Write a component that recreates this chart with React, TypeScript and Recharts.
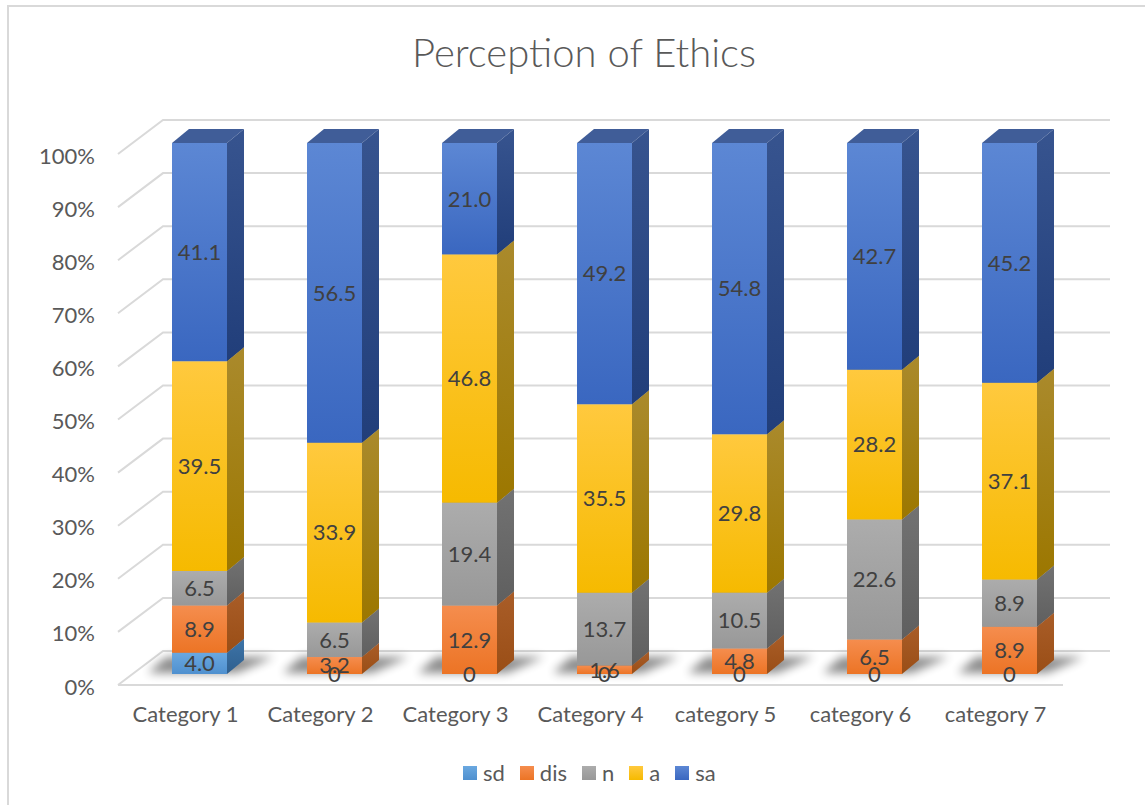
import React from "react";
import { BarChart, Bar, XAxis, YAxis, CartesianGrid, Legend, LabelList } from "recharts";

// ── Data ───────────────────────────────────────────────────────────────────
const categories = ["Category 1", "Category 2", "Category 3", "Category 4", "category 5", "category 6", "category 7"];
const sd  = [4.0, 0, 0, 0, 0, 0, 0];
const dis = [8.9, 3.2, 12.9, 1.6, 4.8, 6.5, 8.9];
const n   = [6.5, 6.5, 19.4, 13.7, 10.5, 22.6, 8.9];
const a   = [39.5, 33.9, 46.8, 35.5, 29.8, 28.2, 37.1];
const sa  = [41.1, 56.5, 21.0, 49.2, 54.8, 42.7, 45.2];
const yTicks = [0, 0.1, 0.2, 0.3, 0.4, 0.5, 0.6, 0.7, 0.8, 0.9, 1];

const data = categories.map((name, i) => ({
  name, sd: sd[i], dis: dis[i], n: n[i], a: a[i], sa: sa[i],
}));

// ── Style ──────────────────────────────────────────────────────────────────
const FONT = "Lato, 'Open Sans', sans-serif";
const TEXT = "#595959";
const LABEL = "#404040";
const GRID = "#d9d9d9";
const DX = 17; // depth offset
const DY = 14;

const SERIES = [
  { key: "sd",  light: "#6aa8e0", base: "#4f90cf", sideA: "#3d74a8", sideB: "#2f5f8e", top: "#4a7fb3" },
  { key: "dis", light: "#f58d4e", base: "#ec7425", sideA: "#a95d28", sideB: "#9a4e16", top: "#b8632a" },
  { key: "n",   light: "#acacac", base: "#989898", sideA: "#727272", sideB: "#5f5f5f", top: "#7a7a7a" },
  { key: "a",   light: "#ffc93e", base: "#f6ba00", sideA: "#aa8a2c", sideB: "#9c7700", top: "#b08a20" },
  { key: "sa",  light: "#5c87d4", base: "#3a67c0", sideA: "#37548f", sideB: "#213e7a", top: "#405d98" },
];

// ── 3D column segment ──────────────────────────────────────────────────────
function makeBox(s: typeof SERIES[number]) {
  return (props: any) => {
    const { x, y, width, height } = props;
    if (!height || height <= 0) return <g />;
    const r = x + width;
    return (
      <g>
        <polygon points={`${x},${y} ${x + DX},${y - DY} ${r + DX},${y - DY} ${r},${y}`} fill={s.top} />
        <polygon
          points={`${r},${y} ${r + DX},${y - DY} ${r + DX},${y + height - DY} ${r},${y + height}`}
          fill={`url(#side-${s.key})`}
        />
        <rect x={x} y={y} width={width} height={height} fill={`url(#front-${s.key})`} />
      </g>
    );
  };
}

// floor shadow under each column, drawn from the full-height background band
function FloorShadow(props: any) {
  const { x, y, width, height } = props;
  const b = y + height;
  return (
    <polygon
      points={`${x - 24},${b - 1} ${x + width + 10},${b - 1} ${x + width + DX + 30},${b - DY - 3} ${x - 6},${b - DY - 3}`}
      fill="#000"
      opacity={0.45}
      filter="url(#shadowBlur)"
    />
  );
}

// back-wall gridline with the diagonal run to the front axis
function WallLine(props: any) {
  const { x1, x2, y1, index } = props;
  return (
    <g>
      <polyline
        points={`${x1 - 14},${y1 + 11} ${x1 + 31},${y1 - 23} ${x2 + 33},${y1 - 23}`}
        fill="none"
        stroke={GRID}
        strokeWidth={2}
      />
      {index === 0 && (
        <line x1={x1 - 14} y1={y1 + 11} x2={x2 - 14} y2={y1 + 11} stroke={GRID} strokeWidth={2} />
      )}
    </g>
  );
}

function YTick(props: any) {
  const { x, y, payload } = props;
  return (
    <text x={x - 37} y={y + 12} textAnchor="end" dominantBaseline="central" fill={TEXT} fontSize={22} fontFamily={FONT}>
      {Math.round(payload.value * 100)}%
    </text>
  );
}

function XTick(props: any) {
  const { x, y, payload } = props;
  return (
    <text x={x - 14} y={y + 48} textAnchor="middle" fill={TEXT} fontSize={22} fontFamily={FONT}>
      {payload.value}
    </text>
  );
}

function LegendRow() {
  return (
    <div style={{ display: "flex", alignItems: "center", fontFamily: FONT, fontSize: 22, color: TEXT }}>
      {SERIES.map((s) => (
        <div key={s.key} style={{ display: "flex", alignItems: "center", marginRight: 15 }}>
          <span
            style={{
              display: "inline-block", width: 14, height: 14, marginRight: 6,
              background: `linear-gradient(${s.light}, ${s.base})`,
            }}
          />
          <span>{s.key}</span>
        </div>
      ))}
    </div>
  );
}

const fmt = (v: any) => (Number(v) === 0 ? "0" : Number(v).toFixed(1));

export default function App() {
  return (
    <div style={{ position: "absolute", left: 0, top: 0, width: 1145, height: 805, overflow: "hidden", background: "#fff" }}>
      <div
        style={{
          position: "absolute", left: 7, top: 5, width: 1138, height: 800,
          borderLeft: `2px solid ${GRID}`, borderTop: `2px solid ${GRID}`,
        }}
      />
      <div
        style={{
          position: "absolute", left: 0, width: 1168, top: 27, textAlign: "center", lineHeight: "50px",
          fontFamily: FONT, fontWeight: 300, fontSize: 40, color: TEXT,
        }}
      >
        Perception of Ethics
      </div>
      <BarChart
        width={1145}
        height={805}
        data={data}
        stackOffset="expand"
        margin={{ top: 143, right: 68, bottom: 91, left: 0 }}
        barSize={55}
        style={{ position: "absolute", left: 0, top: 0 }}
      >
        <defs>
          {SERIES.map((s) => (
            <linearGradient key={`f-${s.key}`} id={`front-${s.key}`} x1="0" y1="0" x2="0" y2="1">
              <stop offset="0%" stopColor={s.light} />
              <stop offset="100%" stopColor={s.base} />
            </linearGradient>
          ))}
          {SERIES.map((s) => (
            <linearGradient key={`s-${s.key}`} id={`side-${s.key}`} x1="0" y1="0" x2="0" y2="1">
              <stop offset="0%" stopColor={s.sideA} />
              <stop offset="100%" stopColor={s.sideB} />
            </linearGradient>
          ))}
          <filter id="shadowBlur" x="-50%" y="-150%" width="200%" height="400%">
            <feGaussianBlur stdDeviation="5" />
          </filter>
        </defs>

        <CartesianGrid vertical={false} horizontal={(p: any) => <WallLine key={p.key} {...p} />} />
        <XAxis
          dataKey="name"
          height={40}
          tickLine={false}
          axisLine={false}
          tickSize={0}
          tickMargin={0}
          tick={<XTick />}
          interval={0}
        />
        <YAxis
          width={132}
          domain={[0, 1]}
          ticks={yTicks}
          tickLine={false}
          axisLine={false}
          tickSize={0}
          tickMargin={0}
          tick={<YTick />}
          interval={0}
        />
        <Legend
          layout="horizontal"
          verticalAlign="middle"
          align="center"
          content={() => <LegendRow />}
          wrapperStyle={{ left: 463, top: 759, width: "auto" }}
        />

        {SERIES.map((s, i) => (
          <Bar
            key={s.key}
            dataKey={s.key}
            stackId="all"
            shape={makeBox(s)}
            background={i === 0 ? (p: any) => <FloorShadow key={`sh-${p.index}`} {...p} /> : undefined}
            isAnimationActive={false}
          >
            <LabelList
              dataKey={s.key}
              position="center"
              formatter={fmt}
              fill={LABEL}
              fontSize={22}
              fontFamily={FONT}
            />
          </Bar>
        ))}
      </BarChart>
    </div>
  );
}
